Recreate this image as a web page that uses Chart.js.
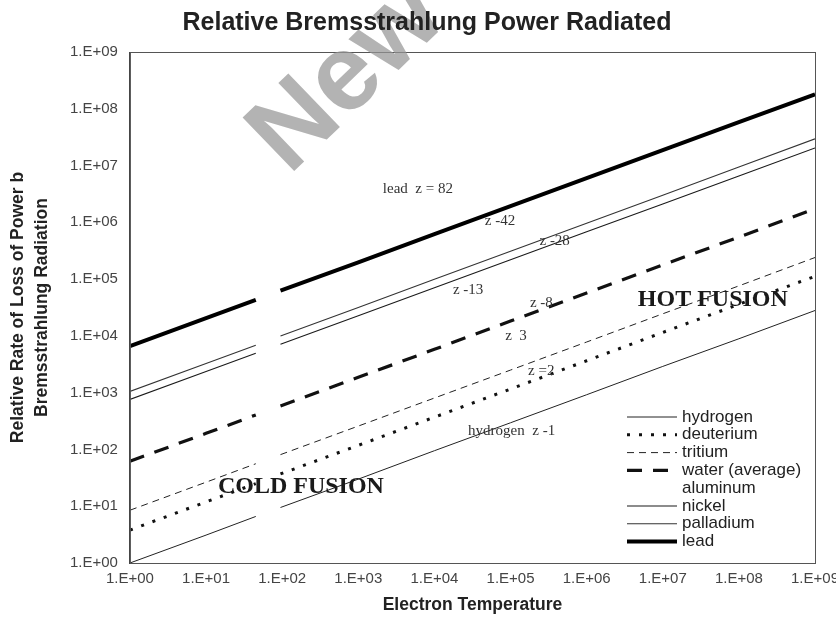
<!DOCTYPE html>
<html>
<head>
<meta charset="utf-8">
<script src="https://cdn.jsdelivr.net/npm/chart.js@4.4.0/dist/chart.umd.min.js"></script>
<style>
  html, body { margin: 0; padding: 0; background: #fff; }
  #wrap { width: 836px; height: 625px; }
</style>
</head>
<body>
<div id="wrap"><canvas id="chart" width="836" height="625"></canvas></div>
<script>
// electron temperature samples (the null column leaves the break seen in the scan)
const temps = [1, 10, 45, 65, 95, 1e3, 1e4, 1e5, 1e6, 1e7, 1e8, 1e9];

const hydrogen  = [1, 3.1, 6.6, null, 9.5, 30, 95, 295, 920, 2900, 8900, 28000];
const deuterium = [3.8, 11.9, 25, null, 37, 118, 370, 1160, 3650, 11500, 36000, 112000];
const tritium   = [8.5, 26.5, 56, null, 81, 258, 805, 2500, 7800, 24500, 76000, 240000];
const water     = [62, 192, 405, null, 585, 1860, 5800, 18200, 56800, 178000, 550000, 1740000];
const aluminum  = [];
const nickel    = [760, 2350, 4930, null, 7130, 22700, 70500, 219000, 680000, 2110000, 6550000, 20400000];
const palladium = [1050, 3270, 6870, null, 9930, 31700, 99000, 309000, 964000, 3000000, 9400000, 29500000];
const lead      = [6600, 20600, 43200, null, 62400, 198000, 617000, 1930000, 6000000, 18700000, 58000000, 180000000];

const seriesNames = ['hydrogen', 'deuterium', 'tritium', 'water (average)', 'aluminum', 'nickel', 'palladium', 'lead'];

const tickValues = [1, 1e1, 1e2, 1e3, 1e4, 1e5, 1e6, 1e7, 1e8, 1e9];
const tickLabels = ['1.E+00', '1.E+01', '1.E+02', '1.E+03', '1.E+04', '1.E+05', '1.E+06', '1.E+07', '1.E+08', '1.E+09'];

// in-plot notes, placed in data coordinates
const noteTexts = ['lead  z = 82', 'z -42', 'z -28', 'z -13', 'z -8', 'z  3', 'z =2', 'hydrogen  z -1'];
const noteX = [2100, 46000, 240000, 17500, 180000, 85000, 170000, 27700];
const noteY = [3.9e6, 1.04e6, 4.6e5, 64000, 38000, 10000, 2430, 215];

const bigTexts = ['HOT FUSION', 'COLD FUSION'];
const bigX = [4.7e6, 14.3];
const bigY = [42800, 22.4];

function pts(vals) {
  return vals.map((v, i) => ({ x: temps[i], y: v }));
}

const styles = [
  { color: '#222', width: 1, dash: [] },
  { color: '#111', width: 3, dash: [3, 9] },
  { color: '#222', width: 1, dash: [7, 5] },
  { color: '#111', width: 3.2, dash: [15, 11] },
  { color: 'rgba(0,0,0,0)', width: 1, dash: [] },
  { color: '#1a1a1a', width: 1.1, dash: [] },
  { color: '#333', width: 1.1, dash: [] },
  { color: '#000', width: 4, dash: [] }
];
const allSeries = [hydrogen, deuterium, tritium, water, aluminum, nickel, palladium, lead];

const datasets = allSeries.map((vals, i) => ({
  label: seriesNames[i],
  data: pts(vals),
  borderColor: styles[i].color,
  borderWidth: styles[i].width,
  borderDash: styles[i].dash,
  borderCapStyle: 'butt',
  pointRadius: 0,
  tension: 0,
  fill: false
}));

const SANS = '"Liberation Sans", Arial, sans-serif';
const SERIF = '"Liberation Serif", "Times New Roman", serif';

const extras = {
  id: 'extras',
  afterDatasetsDraw(chart) {
    const { ctx, chartArea: a, scales: { x, y } } = chart;
    ctx.save();
    // box round the plot
    ctx.strokeStyle = '#555';
    ctx.lineWidth = 1;
    ctx.strokeRect(a.left + 0.5, a.top + 0.5, a.right - a.left, a.bottom - a.top);

    // small notes
    ctx.fillStyle = '#333';
    ctx.font = '15px ' + SERIF;
    ctx.textAlign = 'left';
    ctx.textBaseline = 'middle';
    noteTexts.forEach((t, i) => {
      ctx.fillText(t, x.getPixelForValue(noteX[i]), y.getPixelForValue(noteY[i]));
    });

    ctx.fillStyle = '#1a1a1a';
    ctx.font = 'bold 24px ' + SERIF;
    bigTexts.forEach((t, i) => {
      ctx.fillText(t, x.getPixelForValue(bigX[i]), y.getPixelForValue(bigY[i]));
    });

    // legend, bottom right inside the plot
    const lx0 = a.right - 188, lx1 = a.right - 138;
    let ly = a.bottom - 146;
    ctx.font = '17px ' + SANS;
    chart.data.datasets.forEach((ds) => {
      ctx.beginPath();
      ctx.setLineDash(ds.borderDash || []);
      ctx.strokeStyle = ds.borderColor;
      ctx.lineWidth = ds.borderWidth;
      ctx.moveTo(lx0, ly);
      ctx.lineTo(lx1, ly);
      ctx.stroke();
      ctx.setLineDash([]);
      ctx.fillStyle = '#222';
      ctx.fillText(ds.label, lx1 + 5, ly);
      ly += 17.8;
    });
    ctx.restore();
  },
  afterDraw(chart) {
    const { ctx } = chart;
    ctx.save();
    // scan watermark
    ctx.translate(289, 176);
    ctx.rotate(-44 * Math.PI / 180);
    ctx.font = 'bold 108px ' + SANS;
    ctx.textAlign = 'left';
    ctx.textBaseline = 'alphabetic';
    ctx.fillStyle = 'rgba(150,150,150,0.72)';
    ctx.fillText('New', 0, 0);
    ctx.restore();

    ctx.save();
    // title, on top of the watermark
    ctx.fillStyle = '#222';
    ctx.font = 'bold 25px ' + SANS;
    ctx.textAlign = 'center';
    ctx.textBaseline = 'middle';
    ctx.fillText('Relative Bremsstrahlung Power Radiated', 427, 23);
    ctx.restore();
  }
};

new Chart(document.getElementById('chart'), {
  type: 'line',
  data: { datasets },
  options: {
    responsive: false,
    animation: false,
    devicePixelRatio: 1,
    parsing: false,
    spanGaps: false,
    layout: { padding: { top: 52, right: 21, bottom: 3, left: 0 } },
    plugins: {
      legend: { display: false },
      title: { display: false },
      tooltip: { enabled: false }
    },
    scales: {
      x: {
        type: 'logarithmic',
        min: 1,
        max: 1e9,
        grid: { display: false, drawTicks: false },
        border: { display: true, color: '#444', width: 1 },
        afterBuildTicks(axis) { axis.ticks = tickValues.map(v => ({ value: v })); },
        afterFit(axis) { axis.paddingRight = 0; axis.paddingLeft = 0; },
        ticks: {
          autoSkip: false,
          maxRotation: 0,
          padding: 7,
          color: '#444',
          font: { family: SANS, size: 15 },
          callback: (v, i) => tickLabels[i]
        },
        title: {
          display: true,
          text: 'Electron Temperature',
          color: '#222',
          font: { family: SANS, size: 17.5, weight: 'bold', lineHeight: 1.2 },
          padding: { top: 0, bottom: 6 }
        }
      },
      y: {
        type: 'logarithmic',
        min: 1,
        max: 1e9,
        grid: { display: false, drawTicks: false },
        border: { display: true, color: '#444', width: 1 },
        afterBuildTicks(axis) { axis.ticks = tickValues.map(v => ({ value: v })); },
        ticks: {
          autoSkip: false,
          padding: 12,
          color: '#444',
          font: { family: SANS, size: 15 },
          callback: (v, i) => tickLabels[i]
        },
        title: {
          display: true,
          text: ['Relative Rate of Loss of Power b', 'Bremsstrahlung Radiation'],
          color: '#222',
          font: { family: SANS, size: 17.5, weight: 'bold', lineHeight: 1.371 },
          padding: { top: 6, bottom: 4 }
        }
      }
    }
  },
  plugins: [extras]
});
</script>
</body>
</html>
